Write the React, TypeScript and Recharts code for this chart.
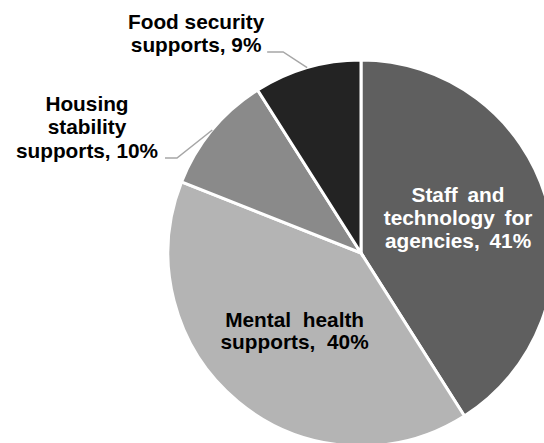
import React from "react";
import { PieChart, Pie, Cell } from "recharts";

const categories = [
  "Staff and technology for agencies",
  "Mental health supports",
  "Housing stability supports",
  "Food security supports",
];
const shares = [41, 40, 10, 9];
const labelLines = [
  ["Staff and", "technology for", "agencies, 41%"],
  ["Mental health", "supports, 40%"],
  ["Housing", "stability", "supports, 10%"],
  ["Food security", "supports, 9%"],
];
const colors = ["#5f5f5f", "#b4b4b4", "#8a8a8a", "#232323"];

const data = categories.map((name, i) => ({ name, value: shares[i] }));

const RAD = Math.PI / 180;
const FONT = "'Liberation Sans', Arial, sans-serif";
const FS = 20.8;

// label layout (style config)
const layout = [
  { inside: true, r: 100, color: "#ffffff", dys: [-23, 0, 23], dx: 1, ws: 4 },
  { inside: true, r: 112, color: "#000000", dys: [-12, 10], dx: 5, ws: 6 },
  { inside: false, elbow: [-35.3, 28], hlen: 12, textDx: -78, lineH: 23.5, color: "#000000" },
  { inside: false, elbow: [-24, -15.7], hlen: 16, textDx: -71, lineH: 23, color: "#000000" },
];

const renderLabel = (props: any) => {
  const { cx, cy, midAngle, outerRadius, index } = props;
  const cfg: any = layout[index];
  const lines = labelLines[index];
  const cos = Math.cos(-midAngle * RAD);
  const sin = Math.sin(-midAngle * RAD);
  if (cfg.inside) {
    const x = cx + cfg.r * cos + cfg.dx;
    const y = cy + cfg.r * sin;
    return (
      <text
        key={`l${index}`}
        x={x}
        y={y}
        fill={cfg.color}
        textAnchor="middle"
        fontFamily={FONT}
        fontWeight="bold"
        fontSize={FS}
        style={{ wordSpacing: cfg.ws }}
      >
        {lines.map((t, i) => (
          <tspan key={i} x={x} y={y + cfg.dys[i]}>
            {t}
          </tspan>
        ))}
      </text>
    );
  }
  const ex = cx + outerRadius * cos;
  const ey = cy + outerRadius * sin;
  const bx = ex + cfg.elbow[0];
  const by = ey + cfg.elbow[1];
  const hx = bx - cfg.hlen;
  const tx = hx + cfg.textDx;
  const n = lines.length;
  return (
    <g key={`l${index}`}>
      <polyline
        points={`${ex},${ey} ${bx},${by} ${hx},${by}`}
        fill="none"
        stroke="#a6a6a6"
        strokeWidth={1.5}
      />
      <text
        x={tx}
        y={by}
        fill={cfg.color}
        textAnchor="middle"
        fontFamily={FONT}
        fontWeight="bold"
        fontSize={FS}
      >
        {lines.map((t, i) => (
          <tspan key={i} x={tx} y={by - (n - 1 - i) * cfg.lineH}>
            {t}
          </tspan>
        ))}
      </text>
    </g>
  );
};

export default function App() {
  return (
    <div style={{ position: "absolute", left: 0, top: 0, width: 544, height: 443, background: "#fff", overflow: "hidden" }}>
      <PieChart width={544} height={443} margin={{ top: 0, right: 0, bottom: 0, left: 0 }}>
        <Pie
          data={data}
          dataKey="value"
          nameKey="name"
          cx={361}
          cy={253}
          outerRadius={193}
          startAngle={90}
          endAngle={-270}
          stroke="#ffffff"
          strokeWidth={3}
          label={renderLabel}
          labelLine={false}
          isAnimationActive={false}
        >
          {data.map((d, i) => (
            <Cell key={d.name} fill={colors[i]} />
          ))}
        </Pie>
      </PieChart>
    </div>
  );
}
